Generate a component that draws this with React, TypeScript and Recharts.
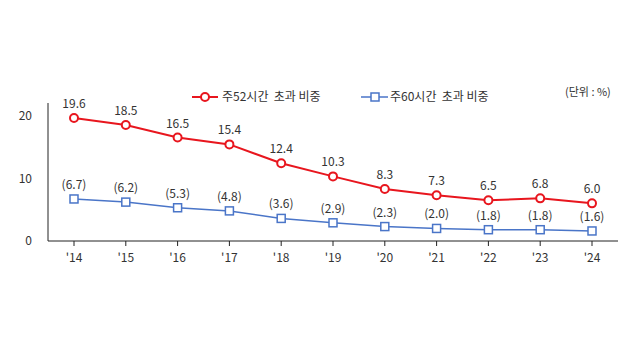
import { LineChart, Line, XAxis, YAxis, LabelList } from 'recharts'

const RED = '#e8161e'
const BLUE = '#4a75c8'
const TEXT = '#333333'
const AXIS = '#222222'
const FONT = '"Noto Sans CJK KR", "Noto Sans", sans-serif'

const years = ["'14", "'15", "'16", "'17", "'18", "'19", "'20", "'21", "'22", "'23", "'24"]
const over52 = [19.6, 18.5, 16.5, 15.4, 12.4, 10.3, 8.3, 7.3, 6.5, 6.8, 6.0]
const over60 = [6.7, 6.2, 5.3, 4.8, 3.6, 2.9, 2.3, 2.0, 1.8, 1.8, 1.6]
const yTicks = [0, 10, 20]

const rows = years.map((y, i) => ({ year: y, h52: over52[i], h60: over60[i] }))

function SquareDot(props: any) {
  const { cx, cy } = props
  if (cx == null || cy == null) return null
  return <rect x={cx - 4} y={cy - 4} width={8} height={8} fill="#fff" stroke={BLUE} strokeWidth={1.5} />
}

export default function App() {
  return (
    <div style={{ position: 'relative', width: 640, height: 360, background: '#fff', fontFamily: FONT }}>
      <style>{`body{margin:0}`}</style>

      {/* legend */}
      <svg width={640} height={120} style={{ position: 'absolute', left: 0, top: 0 }}>
        <line x1={192} y1={97} x2={218} y2={97} stroke={RED} strokeWidth={2} />
        <circle cx={205} cy={97} r={4} fill="#fff" stroke={RED} strokeWidth={2} />
        <text x={222} y={101} fontSize={12} fill={TEXT} fontFamily={FONT}>{'주52시간\u00a0\u00a0초과 비중'}</text>
        <line x1={361} y1={97} x2={388} y2={97} stroke={BLUE} strokeWidth={1.5} />
        <rect x={371} y={93} width={8} height={8} fill="#fff" stroke={BLUE} strokeWidth={1.5} />
        <text x={390} y={101} fontSize={12} fill={TEXT} fontFamily={FONT}>{'주60시간\u00a0\u00a0초과 비중'}</text>
        <text x={565} y={96} fontSize={11} fill={TEXT} fontFamily={FONT}>(단위 : %)</text>
      </svg>

      <div style={{ position: 'absolute', left: 0, top: 0 }}>
        <LineChart width={640} height={360} data={rows} margin={{ top: 103, right: 22, bottom: 89, left: 0 }}>
          <XAxis
            dataKey="year"
            stroke={AXIS}
            padding={{ left: 26, right: 26 }}
            tick={{ fill: TEXT, fontSize: 12, fontFamily: FONT }}
            tickSize={5}
            tickMargin={7}
            interval={0}
          />
          <YAxis
            width={48}
            domain={[0, 22]}
            ticks={yTicks}
            stroke={AXIS}
            tickLine={false}
            tickSize={8}
            tickMargin={8}
            tick={{ fill: TEXT, fontSize: 12, fontFamily: FONT }}
          />
          <Line
            dataKey="h52"
            stroke={RED}
            strokeWidth={2}
            dot={{ r: 4, fill: '#fff', stroke: RED, strokeWidth: 2 }}
            isAnimationActive={false}
          >
            <LabelList dataKey="h52" position="top" offset={10} fill={TEXT} fontSize={12} fontFamily={FONT}
              formatter={(v: any) => Number(v).toFixed(1)} />
          </Line>
          <Line
            dataKey="h60"
            stroke={BLUE}
            strokeWidth={1.5}
            dot={<SquareDot />}
            isAnimationActive={false}
          >
            <LabelList dataKey="h60" position="top" offset={10} fill={TEXT} fontSize={12} fontFamily={FONT}
              formatter={(v: any) => `(${Number(v).toFixed(1)})`} />
          </Line>
        </LineChart>
      </div>
    </div>
  )
}
